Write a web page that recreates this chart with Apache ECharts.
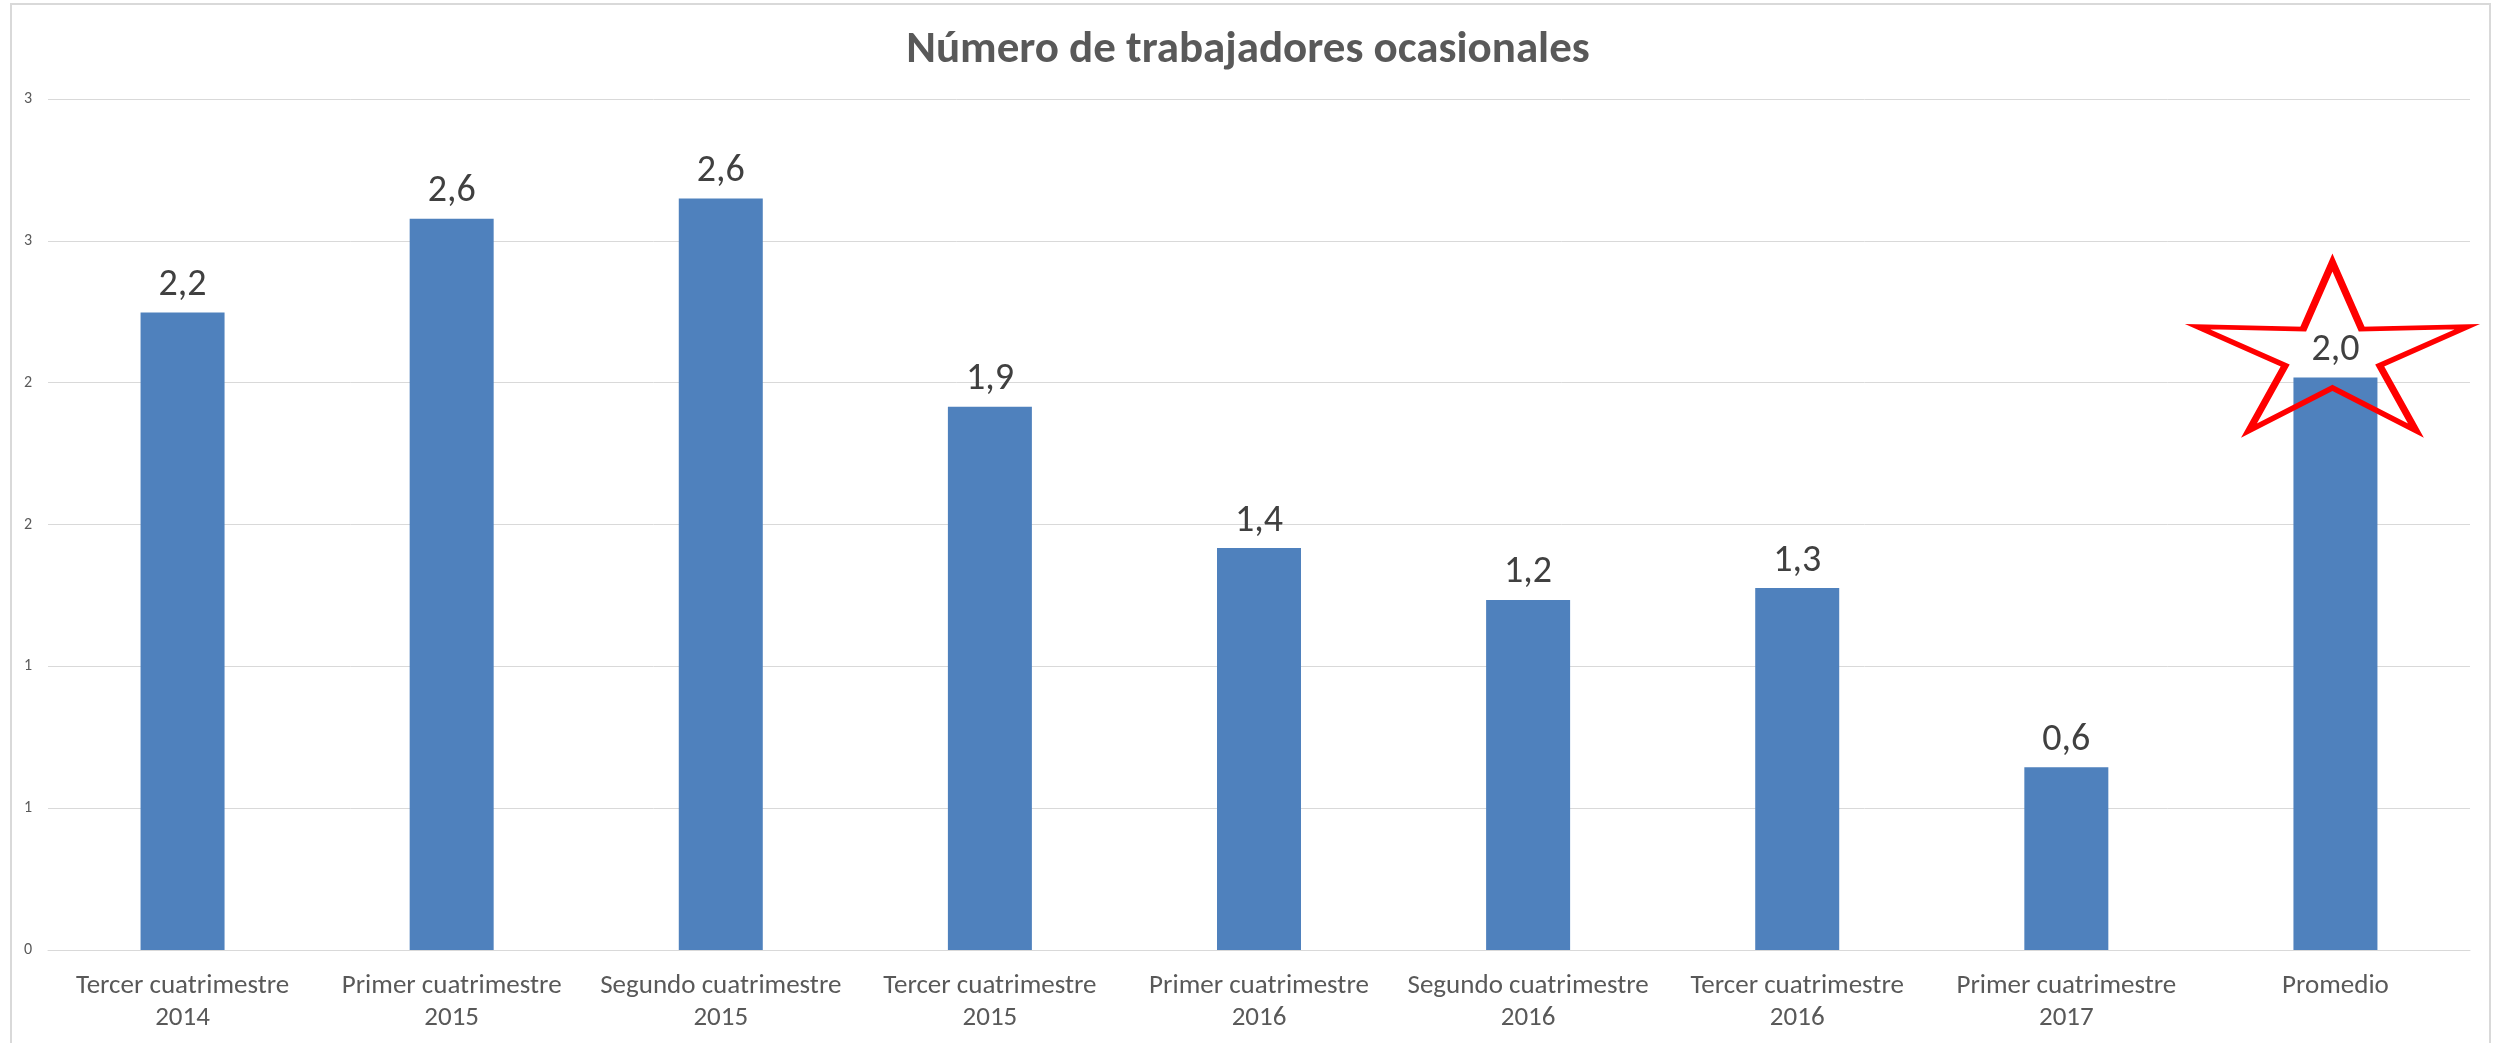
<!DOCTYPE html>
<html>
<head>
<meta charset="utf-8">
<title>Número de trabajadores ocasionales</title>
<script src="https://cdn.jsdelivr.net/npm/echarts@6/dist/echarts.min.js"></script>
<style>
  html, body { margin: 0; padding: 0; background: #fff; }
  #chart { width: 2496px; height: 1043px; }
</style>
</head>
<body>
<div id="chart"></div>
<script>
// datos
const categories = [
  'Tercer cuatrimestre\n2014',
  'Primer cuatrimestre\n2015',
  'Segundo cuatrimestre\n2015',
  'Tercer cuatrimestre\n2015',
  'Primer cuatrimestre\n2016',
  'Segundo cuatrimestre\n2016',
  'Tercer cuatrimestre\n2016',
  'Primer cuatrimestre\n2017',
  'Promedio'
];
const values = [2.247, 2.578, 2.649, 1.915, 1.417, 1.234, 1.276, 0.644, 2.018];
const yTickLabels = ['0', '1', '1', '2', '2', '3', '3'];
const highlighted = 'Promedio';

const FONT = "Carlito, 'Liberation Sans Narrow', 'Liberation Sans', sans-serif";

// estrella (forma del marcador, no datos)
const starPath = () => {
  const rx = 146, ry = 96, inner = 0.35;
  const pts = [];
  for (let i = 0; i < 10; i++) {
    const a = Math.PI / 5 * i;
    const r = i % 2 === 0 ? 1 : inner;
    pts.push([(Math.sin(a) * r * rx).toFixed(2), (-Math.cos(a) * r * ry).toFixed(2)]);
  }
  return 'path://M' + pts.map(p => p.join(',')).join('L') + 'Z';
};

const chart = echarts.init(document.getElementById('chart'));
chart.setOption({
  backgroundColor: '#fff',
  animation: false,
  title: {
    text: 'Número de trabajadores ocasionales',
    left: 'center',
    top: 23,
    textStyle: { fontFamily: FONT, fontSize: 45, fontWeight: 'bold', color: '#595959' }
  },
  graphic: [{
    type: 'rect',
    shape: { x: 11, y: 4, width: 2479, height: 1060 },
    style: { fill: 'none', stroke: '#d9d9d9', lineWidth: 2 },
    silent: true
  }],
  grid: { left: 48, right: 26, top: 99, bottom: 93 },
  xAxis: {
    type: 'category',
    data: categories,
    axisLine: { lineStyle: { color: '#d9d9d9', width: 1 } },
    axisTick: { show: false },
    axisLabel: {
      interval: 0,
      margin: 20,
      fontFamily: FONT,
      fontSize: 27,
      lineHeight: 32,
      color: '#595959'
    }
  },
  yAxis: {
    type: 'value',
    min: 0,
    max: 3,
    interval: 0.5,
    axisLine: { show: false },
    axisTick: { show: false },
    splitLine: { lineStyle: { color: '#d9d9d9', width: 1 } },
    axisLabel: {
      margin: 16,
      fontFamily: FONT,
      fontSize: 16,
      color: '#595959',
      formatter: (v, i) => yTickLabels[i]
    }
  },
  series: [{
    type: 'bar',
    data: values,
    barWidth: 84,
    itemStyle: { color: '#4f81bd' },
    label: {
      show: true,
      position: 'top',
      distance: 8,
      fontFamily: FONT,
      fontSize: 38,
      color: '#404040',
      formatter: p => p.value.toFixed(1).replace('.', ',')
    },
    markPoint: {
      symbol: starPath(),
      symbolSize: [270, 168],
      symbolKeepAspect: false,
      symbolOffset: [-3, -31],
      itemStyle: { color: 'rgba(0,0,0,0)', borderColor: '#ff0000', borderWidth: 6 },
      label: { show: false },
      data: [{ coord: [highlighted, values[categories.indexOf(highlighted)]] }]
    }
  }]
});
</script>
</body>
</html>
